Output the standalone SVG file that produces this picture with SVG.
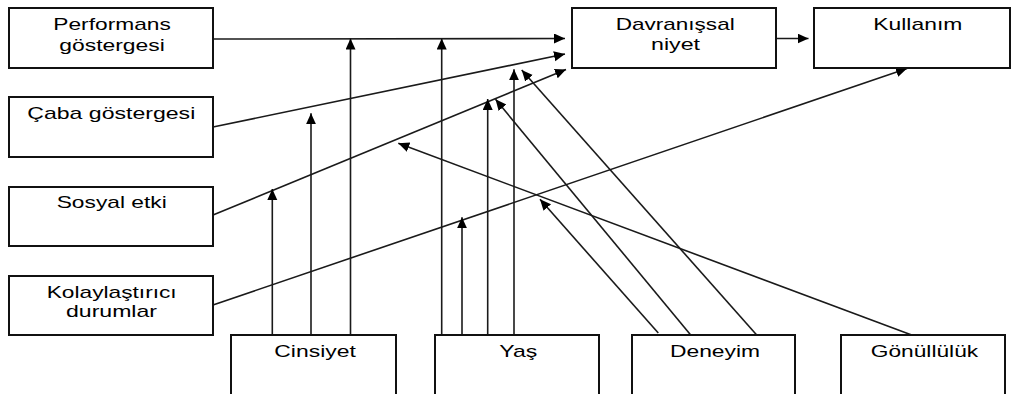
<svg xmlns="http://www.w3.org/2000/svg" width="1011" height="394" viewBox="0 0 1011 394">
<style>
.box{fill:#fff;stroke:#111;stroke-width:2}
.t{font-family:"Liberation Sans",Arial,sans-serif;font-size:17px;fill:#000}
.c{fill:none;stroke:#1a1a1a;stroke-width:1.6;marker-end:url(#ah)}
.n{fill:none;stroke:#1a1a1a;stroke-width:1.6}
</style>
<defs>
<marker id="ah" markerUnits="userSpaceOnUse" markerWidth="12" markerHeight="11" refX="11" refY="5" orient="auto">
<path d="M0,0 L11,5 L0,10 z" fill="#000"/>
</marker>
</defs>
<rect width="1011" height="394" fill="#fff"/>
<g id="connectors">
<line class="c" x1="213" y1="39" x2="565" y2="38.5"/>
<line class="c" x1="213" y1="127" x2="565" y2="54"/>
<line class="c" x1="213" y1="215" x2="566" y2="69.5"/>
<line class="c" x1="213" y1="305" x2="907" y2="68.5"/>
<line class="c" x1="776" y1="38.5" x2="808.5" y2="38.5"/>
<line class="c" x1="272.3" y1="335" x2="272.3" y2="189"/>
<line class="c" x1="311" y1="335" x2="311" y2="113.3"/>
<line class="c" x1="350.5" y1="335" x2="350.5" y2="38.5"/>
<line class="c" x1="441.7" y1="335" x2="441.7" y2="38.5"/>
<line class="c" x1="462" y1="335" x2="462" y2="217.3"/>
<line class="c" x1="487.7" y1="335" x2="487.7" y2="99"/>
<line class="c" x1="514" y1="335" x2="514" y2="69.3"/>
<line class="c" x1="658.3" y1="333" x2="540" y2="199.3"/>
<line class="c" x1="690.7" y1="335" x2="495.5" y2="99.3"/>
<line class="c" x1="756.7" y1="335" x2="521.7" y2="70"/>
<line class="c" x1="911.7" y1="335" x2="398.3" y2="143.3"/>
</g>
<g id="performans">
<rect class="box" x="9" y="8" width="204" height="60"/>
<text class="t" x="53.3" y="30" textLength="117.5" lengthAdjust="spacingAndGlyphs">Performans</text>
<text class="t" x="59.3" y="50.5" textLength="105.5" lengthAdjust="spacingAndGlyphs">göstergesi</text>
</g>
<g id="caba">
<rect class="box" x="9" y="97" width="204" height="60"/>
<text class="t" x="27.3" y="119" textLength="168" lengthAdjust="spacingAndGlyphs">Çaba göstergesi</text>
</g>
<g id="sosyal">
<rect class="box" x="9" y="187" width="204" height="59"/>
<text class="t" x="56.7" y="208.3" textLength="110" lengthAdjust="spacingAndGlyphs">Sosyal etki</text>
</g>
<g id="kolaylastirici">
<rect class="box" x="9" y="276" width="204" height="59"/>
<text class="t" x="46.7" y="298.3" textLength="130" lengthAdjust="spacingAndGlyphs">Kolaylaştırıcı</text>
<text class="t" x="66" y="316.7" textLength="91" lengthAdjust="spacingAndGlyphs">durumlar</text>
</g>
<g id="davranissal">
<rect class="box" x="572" y="8" width="204" height="60"/>
<text class="t" x="615.7" y="30" textLength="119" lengthAdjust="spacingAndGlyphs">Davranışsal</text>
<text class="t" x="651" y="50" textLength="49" lengthAdjust="spacingAndGlyphs">niyet</text>
</g>
<g id="kullanim">
<rect class="box" x="814" y="8" width="196" height="60"/>
<text class="t" x="873.3" y="30" textLength="89" lengthAdjust="spacingAndGlyphs">Kullanım</text>
</g>
<g id="cinsiyet">
<rect class="box" x="231" y="335" width="165" height="70"/>
<text class="t" x="274.3" y="356.7" textLength="81.5" lengthAdjust="spacingAndGlyphs">Cinsiyet</text>
</g>
<g id="yas">
<rect class="box" x="435" y="335" width="164" height="70"/>
<text class="t" x="499.3" y="356.7" textLength="38" lengthAdjust="spacingAndGlyphs">Yaş</text>
</g>
<g id="deneyim">
<rect class="box" x="632" y="335" width="163" height="70"/>
<text class="t" x="670" y="356.7" textLength="90" lengthAdjust="spacingAndGlyphs">Deneyim</text>
</g>
<g id="gonulluluk">
<rect class="box" x="841" y="335" width="164" height="70"/>
<text class="t" x="870.7" y="356.7" textLength="107.5" lengthAdjust="spacingAndGlyphs">Gönüllülük</text>
</g>
</svg>
